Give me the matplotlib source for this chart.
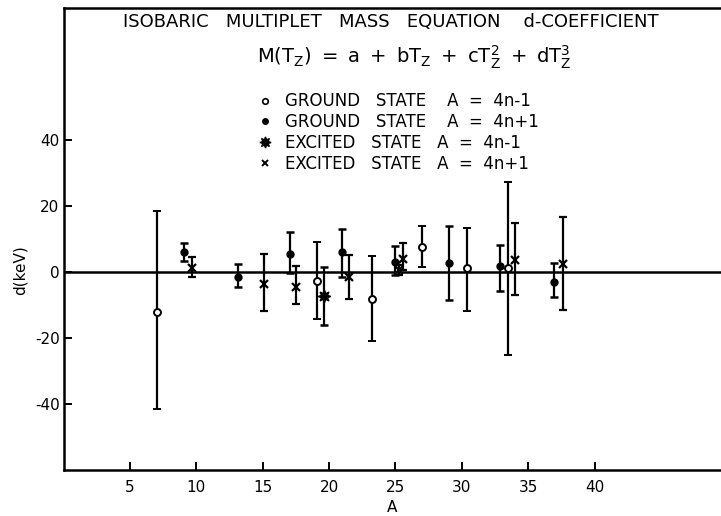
import matplotlib
matplotlib.use('Agg')
import matplotlib.pyplot as plt
from matplotlib.lines import Line2D

plt.rcParams['font.family'] = 'DejaVu Sans'
plt.rcParams['mathtext.fontset'] = 'dejavusans'
plt.rcParams['axes.unicode_minus'] = False

# ground state A = 4n-1 (open circles)
gs_m_A = [7.0, 19.1, 23.2, 27.0, 30.4, 33.5]
gs_m_d = [-12.0, -2.6, -8.3, 7.6, 1.2, 1.1]
gs_m_lo = [29.6, 11.7, 12.7, 6.1, 13.0, 26.3]
gs_m_hi = [30.4, 11.6, 13.2, 6.2, 12.1, 26.3]

# ground state A = 4n+1 (filled dots)
gs_p_A = [9.1, 13.1, 17.05, 21.0, 25.0, 29.0, 32.9, 36.95]
gs_p_d = [6.2, -1.5, 5.4, 6.2, 3.0, 2.8, 1.8, -3.0]
gs_p_lo = [2.8, 2.9, 5.7, 7.6, 4.0, 11.3, 7.7, 4.6]
gs_p_hi = [2.7, 3.9, 6.6, 6.9, 5.0, 11.2, 6.4, 5.8]

# excited state A = 4n-1 (stars)
ex_m_A = [19.6]
ex_m_d = [-7.2]
ex_m_lo = [8.8]
ex_m_hi = [8.8]

# excited state A = 4n+1 (crosses)
ex_p_A = [9.7, 15.1, 17.5, 21.5, 25.3, 25.6, 34.0, 37.6]
ex_p_d = [1.2, -3.6, -4.5, -1.5, 0.5, 4.0, 3.5, 2.3]
ex_p_lo = [2.8, 8.3, 5.1, 6.6, 1.5, 3.4, 10.4, 13.9]
ex_p_hi = [3.3, 9.2, 6.4, 6.6, 1.5, 4.8, 11.3, 14.4]

x_ticks = [5, 10, 15, 20, 25, 30, 35, 40]
y_ticks = [-40, -20, 0, 20, 40]

legend_labels = ['GROUND   STATE    A  =  4n-1',
                 'GROUND   STATE    A  =  4n+1',
                 'EXCITED   STATE   A  =  4n-1',
                 'EXCITED   STATE   A  =  4n+1']

fig = plt.figure(figsize=(7.21, 5.16), dpi=100)
ax = fig.add_axes([63.7 / 721, 46 / 516, 1 - 63.7 / 721, 462 / 516])

eb = dict(ls='none', color='black', ecolor='black', elinewidth=1.6,
          capsize=3, capthick=1.8, zorder=3)

ax.axhline(0, color='black', lw=1.8, zorder=2)

ax.errorbar(gs_m_A, gs_m_d, yerr=[gs_m_lo, gs_m_hi], marker='o', ms=5,
            mfc='white', mec='black', mew=1.4, **eb)
ax.errorbar(gs_p_A, gs_p_d, yerr=[gs_p_lo, gs_p_hi], marker='o', ms=5,
            mfc='black', mec='black', **eb)
ax.errorbar(ex_m_A, ex_m_d, yerr=[ex_m_lo, ex_m_hi], marker=(8, 1, 0), ms=9,
            mfc='black', mec='black', **eb)
ax.errorbar(ex_p_A, ex_p_d, yerr=[ex_p_lo, ex_p_hi], marker='x', ms=6,
            mew=1.6, mec='black', **eb)

ax.set_xlim(0, (721 - 63.7) / 13.27)
ax.set_ylim(-60, 80)
ax.set_xticks(x_ticks)
ax.set_yticks(y_ticks)
ax.tick_params(axis='both', direction='in', labelsize=11, width=1.4)
ax.tick_params(axis='x', length=6, pad=7)
ax.tick_params(axis='y', length=6, pad=3)

for s in ['left', 'bottom', 'top']:
    ax.spines[s].set_linewidth(1.8)
ax.spines['right'].set_visible(False)

ax.set_xlabel('A', fontsize=11)
ax.xaxis.set_label_coords(0.5, -0.064)
ax.set_ylabel('d(keV)', fontsize=11)
ax.yaxis.set_label_coords(-0.055, 0.433)

fig.text(391 / 721, 1 - 22 / 516,
         'ISOBARIC   MULTIPLET   MASS   EQUATION    d-COEFFICIENT',
         ha='center', va='center', fontsize=13)
fig.text(414 / 721, 1 - 57 / 516,
         r'$\mathrm{M(T_Z)\ =\ a\ +\ bT_Z\ +\ cT_Z^2\ +\ dT_Z^3}$',
         ha='center', va='center', fontsize=14)

handles = [
    Line2D([], [], ls='none', marker='o', ms=4, mfc='white', mec='black', mew=1.2),
    Line2D([], [], ls='none', marker='o', ms=4, mfc='black', mec='black'),
    Line2D([], [], ls='none', marker=(8, 1, 0), ms=8, mfc='black', mec='black'),
    Line2D([], [], ls='none', marker='x', ms=5, mew=1.4, mec='black'),
]
fig.legend(handles, legend_labels, loc='upper left',
           bbox_to_anchor=(248 / 721, 1 - 84 / 516), frameon=False,
           fontsize=12, handlelength=1.0, handletextpad=0.7,
           labelspacing=0.17, borderpad=0)

fig.savefig('out.png', dpi=100)
